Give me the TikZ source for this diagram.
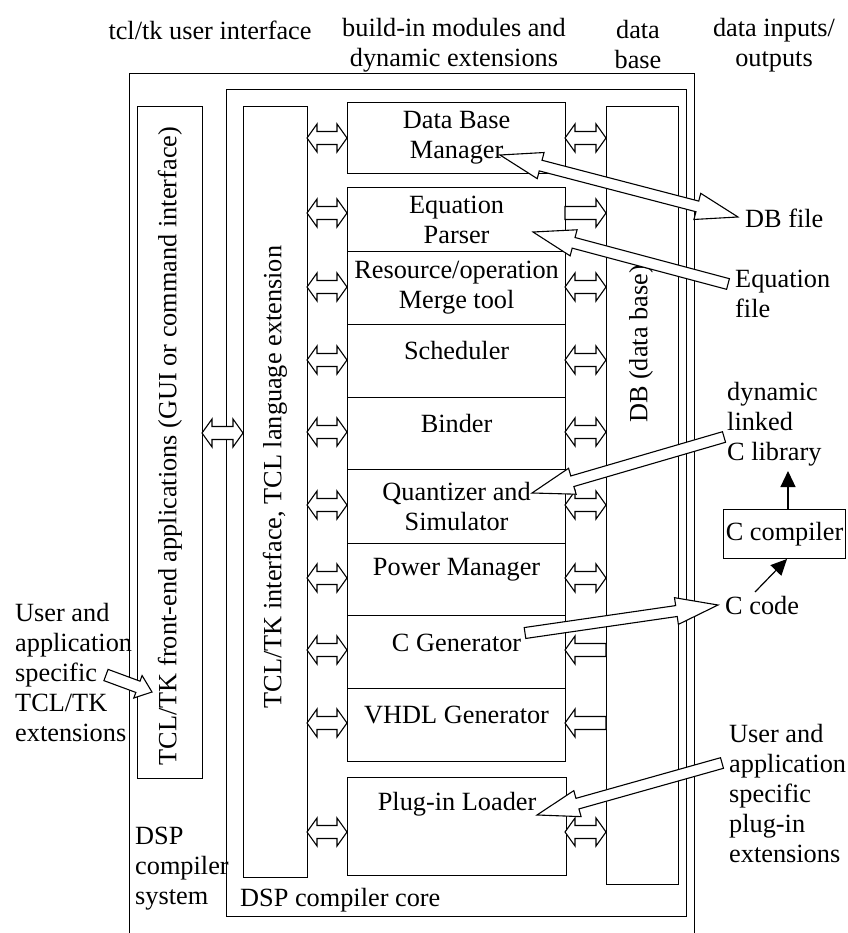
\documentclass[tikz,border=0pt]{standalone}
\usepackage{fontspec}
\setmainfont{Liberation Serif}
\usetikzlibrary{calc,arrows.meta}
\tikzset{
  box/.style={draw, line width=1.2pt, inner sep=0pt, anchor=north west},
  lbl/.style={font=\fontsize{26.3}{30}\selectfont, inner sep=0pt, align=center},
  lbll/.style={lbl, align=left, anchor=west},
  barrow/.style={draw, fill=white, line width=1.1pt, line join=miter},
  farrow/.style={line width=1.2pt, -{Triangle[length=16pt,width=15pt]}},
}
\newcommand\mkbox[5]{\node[box, minimum width=#4, minimum height=#5] (#1) at (#2,#3) {};}
% single-headed block arrow: from, to, shaft half width, head half width, head length
\newcommand\sarrow[5]{%
  \draw[barrow] let \p1=($(#2)-(#1)$), \n1={veclen(\x1,\y1)}, \n2={atan2(\y1,\x1)} in
   [shift={(#1)}, rotate=\n2]
   (0pt,-#3) -- ({\n1-#5},-#3) -- ({\n1-#5},-#4) -- ({\n1},0pt) -- ({\n1-#5},#4) -- ({\n1-#5},#3) -- (0pt,#3) -- cycle;}
% double-headed block arrow
\newcommand\darrow[5]{%
  \draw[barrow] let \p1=($(#2)-(#1)$), \n1={veclen(\x1,\y1)}, \n2={atan2(\y1,\x1)} in
   [shift={(#1)}, rotate=\n2]
   (0pt,0pt) -- (#5,#4) -- (#5,#3) -- ({\n1-#5},#3) -- ({\n1-#5},#4) -- ({\n1},0pt) -- ({\n1-#5},-#4) -- ({\n1-#5},-#3) -- (#5,-#3) -- (#5,-#4) -- cycle;}
\begin{document}
\begin{tikzpicture}[x=1pt,y=-1pt]
\useasboundingbox (0,0) rectangle (847,933);
% frames
\mkbox{sys}{129}{73}{565}{875}
\mkbox{core}{226}{89}{460}{827}
\mkbox{fe}{137}{106}{65}{672}
\mkbox{tcl}{243}{106}{64}{771}
\mkbox{db}{606}{106}{72}{778}
% modules
\mkbox{dbm}{347}{102}{218}{71}
\mkbox{eqp}{347}{187}{218}{64}
\mkbox{res}{347}{251}{218}{73}
\mkbox{sch}{347}{324}{218}{73}
\mkbox{bnd}{347}{397}{218}{72}
\mkbox{qnt}{347}{469}{218}{74}
\mkbox{pwr}{347}{543}{218}{72}
\mkbox{cgn}{347}{615}{218}{73}
\mkbox{vhd}{347}{688}{218}{73}
\mkbox{plg}{347}{777}{219}{98}
\mkbox{cc}{723}{509}{122}{49}
% top labels
\node[lbl] (t1) at (210,30) {tcl/tk user interface};
\node[lbl] (t2) at (454,45) {build-in modules and\\dynamic extensions};
\node[lbl] (t3) at (638,45) {data\\base};
\node[lbl] (t4) at (774,45) {data inputs/\\outputs};
% module texts
\node[lbl] (dbm-t) at (dbm.center) {Data Base\\Manager};
\node[lbl] (eqp-t) at (eqp.center) {Equation\\Parser};
\node[lbl] (res-t) at (res.center) {Resource/operation\\Merge tool};
\node[lbl] (sch-t) at ($(sch.north)+(0,27)$) {Scheduler};
\node[lbl] (bnd-t) at ($(bnd.north)+(0,27)$) {Binder};
\node[lbl] (qnt-t) at (qnt.center) {Quantizer and\\Simulator};
\node[lbl] (pwr-t) at ($(pwr.north)+(0,27)$) {Power Manager};
\node[lbl] (cgn-t) at ($(cgn.north)+(0,28)$) {C Generator};
\node[lbl] (vhd-t) at ($(vhd.north)+(0,27)$) {VHDL Generator};
\node[lbl] (plg-t) at ($(plg.north)+(0,27)$) {Plug-in Loader};
\node[lbl] (cc-t) at (cc.center) {C compiler};
% vertical texts
\node[lbl, rotate=90] (fe-t) at (170,446) {TCL/TK front-end applications (GUI or command interface)};
\node[lbl, rotate=90] (tcl-t) at (275,477) {TCL/TK interface, TCL language extension};
\node[lbl, rotate=90] (db-t) at (641,344) {DB (data base)};
% side labels
\node[lbll] (dbf) at (745,218) {DB file};
\node[lbll] (eqf) at (735,294) {Equation\\file};
\node[lbll] (lib) at (727,424) {dynamic\\linked\\C library};
\node[lbll] (ccode) at (725,605) {C code};
\node[lbll] (plx) at (729,793) {User and\\application\\specific\\plug-in\\extensions};
\node[lbll] (tkx) at (15,672) {User and\\application\\specific\\TCL/TK\\extensions};
\node[lbll] (sys-t) at (135,869) {DSP\\compiler\\system};
\node[lbll] (core-t) at (240,900) {DSP compiler core};
% small arrow end points
\foreach \m/\yy in {dbm/138, eqp/213, res/287, sch/360, bnd/432, qnt/505, pwr/578, cgn/650, vhd/723, plg/832} {
  \coordinate (\m-L1) at (307,\yy);
  \coordinate (\m-L2) at (347,\yy);
  \coordinate (\m-R1) at (565,\yy);
  \coordinate (\m-R2) at (606,\yy);
}
\foreach \m in {dbm,eqp,res,sch,bnd,qnt,pwr,cgn,vhd,plg} {\darrow{\m-L1}{\m-L2}{6.5pt}{14pt}{10pt}}
\foreach \m in {dbm,res,sch,bnd,qnt,pwr,plg} {\darrow{\m-R1}{\m-R2}{6.5pt}{14pt}{10pt}}
\sarrow{eqp-R1}{eqp-R2}{6.5pt}{14pt}{10pt}
\sarrow{cgn-R2}{cgn-R1}{6.5pt}{14pt}{10pt}
\sarrow{vhd-R2}{vhd-R1}{6.5pt}{14pt}{10pt}
\coordinate (fe-a) at (202,433);
\coordinate (fe-b) at (243,433);
\darrow{fe-a}{fe-b}{6.5pt}{14pt}{10pt}
% big arrows
\coordinate (dbm-tip) at (500,155);
\coordinate (dbf-tip) at (738,217);
\darrow{dbm-tip}{dbf-tip}{5.5pt}{13.5pt}{42pt}
\coordinate (eqf-tail) at (728,284);
\coordinate (eqp-tip) at (533,232);
\sarrow{eqf-tail}{eqp-tip}{5.5pt}{13.5pt}{42pt}
\coordinate (lib-tail) at (724,437);
\coordinate (qnt-tip) at (532,493);
\sarrow{lib-tail}{qnt-tip}{5.5pt}{13.5pt}{42pt}
\coordinate (cgn-tail) at (525,633);
\coordinate (ccode-tip) at (718,605);
\sarrow{cgn-tail}{ccode-tip}{5.5pt}{13.5pt}{42pt}
\coordinate (plx-tail) at (722,763);
\coordinate (plg-tip) at (537,815);
\sarrow{plx-tail}{plg-tip}{5.5pt}{13.5pt}{42pt}
\coordinate (tkx-tail) at (106,675);
\coordinate (fe-tip) at (152,692);
\sarrow{tkx-tail}{fe-tip}{6pt}{12pt}{15pt}
% filled arrows
\coordinate (cc-top) at (788,509);
\coordinate (lib-bot) at (788,471);
\draw[farrow] (cc-top) -- (lib-bot);
\coordinate (ccode-top) at (755,592);
\coordinate (cc-bot) at (787,559);
\draw[farrow] (ccode-top) -- (cc-bot);
\end{tikzpicture}
\end{document}
